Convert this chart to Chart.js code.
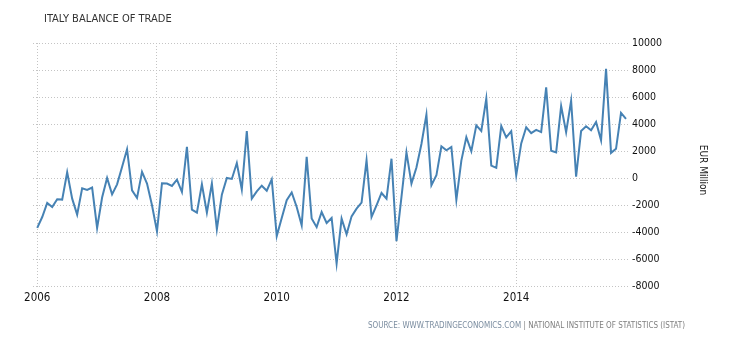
<!DOCTYPE html>
<html>
<head>
<meta charset="utf-8">
<script src="https://cdn.jsdelivr.net/npm/chart.js@4"></script>
<style>
  html, body { margin: 0; padding: 0; background: #ffffff; }
  #wrap { position: relative; width: 730px; height: 340px; }
</style>
</head>
<body>
<div id="wrap"><canvas id="chart" width="730" height="340"></canvas></div>
<script>
// Italy balance of trade, monthly, EUR million (Jan 2006 - Nov 2015)
const firstYear = 2006;
const balance2006 = [-3700, -2890, -1850, -2150, -1580, -1600, 420, -1530, -2710, -760, -890, -710];
const balance2007 = [-3700, -1450, 0, -1210, -470, 820, 2130, -910, -1480, 450, -410, -2020];
const balance2008 = [-3950, -390, -410, -590, -120, -1040, 2300, -2340, -2560, -470, -2560, -410];
const balance2009 = [-3800, -1230, 0, -70, 1110, -860, 3480, -1530, -990, -570, -940, -100];
const balance2010 = [-4300, -2960, -1650, -1070, -2150, -3500, 1560, -3000, -3640, -2520, -3330, -2960];
const balance2011 = [-6340, -3010, -4170, -2840, -2270, -1830, 1310, -2890, -2020, -1110, -1530, 1430];
const balance2012 = [-4680, -1400, 1900, -410, 780, 2520, 4700, -540, 200, 2350, 2050, 2300];
const balance2013 = [-1620, 1290, 3030, 1980, 3900, 3480, 5880, 920, 750, 3850, 3010, 3470];
const balance2014 = [200, 2560, 3760, 3320, 3570, 3400, 6720, 2020, 1900, 5330, 3400, 5730];
const balance2015 = [100, 3480, 3830, 3530, 4150, 2790, 8080, 1860, 2160, 4820, 4380];

const yearLabels = ['2006', '2008', '2010', '2012', '2014'];
const valueTicks = [10000, 8000, 6000, 4000, 2000, 0, -2000, -4000, -6000, -8000];

const series = [].concat(balance2006, balance2007, balance2008, balance2009, balance2010,
  balance2011, balance2012, balance2013, balance2014, balance2015);
// x = months since January of the first year
const points = series.map((v, i) => ({ x: i, y: v }));
const yearTickPositions = yearLabels.map(y => (Number(y) - firstYear) * 12);

const FONT = '"DejaVu Sans Condensed", "DejaVu Sans", sans-serif';
const GRID = '#c4c4c4';

const textPlugin = {
  id: 'pageText',
  afterDraw(chart) {
    const ctx = chart.ctx;
    ctx.save();
    ctx.textBaseline = 'alphabetic';
    ctx.textAlign = 'left';
    // heading
    ctx.fillStyle = '#333333';
    ctx.font = '11px ' + FONT;
    ctx.fillText('ITALY BALANCE OF TRADE', 44, 22);
    // source line
    ctx.font = '8px ' + FONT;
    const part1 = 'SOURCE: WWW.TRADINGECONOMICS.COM';
    const part2 = ' | NATIONAL INSTITUTE OF STATISTICS (ISTAT)';
    ctx.fillStyle = '#7b8da0';
    ctx.fillText(part1, 368, 328);
    const w1 = ctx.measureText(part1).width;
    ctx.fillStyle = '#808080';
    ctx.fillText(part2, 368 + w1, 328);
    // unit label
    ctx.translate(700, 170);
    ctx.rotate(Math.PI / 2);
    ctx.textAlign = 'center';
    ctx.fillStyle = '#222222';
    ctx.font = '10px ' + FONT;
    ctx.fillText('EUR Million', 0, 0);
    ctx.restore();
  }
};

new Chart(document.getElementById('chart'), {
  type: 'line',
  data: {
    datasets: [{
      data: points,
      borderColor: '#4682b4',
      borderWidth: 2,
      pointRadius: 0,
      tension: 0,
      fill: false
    }]
  },
  options: {
    responsive: false,
    animation: false,
    layout: { padding: { left: 33, top: 43, right: 0, bottom: 0 } },
    plugins: { legend: { display: false }, tooltip: { enabled: false } },
    scales: {
      x: {
        type: 'linear',
        min: -0.85,
        max: 118.4,
        afterFit(scale) { scale.height = 54; },
        afterBuildTicks(scale) { scale.ticks = yearTickPositions.map(v => ({ value: v })); },
        border: { display: false, dash: [1, 2] },
        grid: {
          color: GRID,
          lineWidth: 1,
          tickLength: 3,
          tickBorderDash: [1, 2]
        },
        ticks: {
          autoSkip: false,
          maxRotation: 0,
          padding: 2,
          color: '#111111',
          font: { family: FONT, size: 11.5 },
          callback: (v) => yearLabels[yearTickPositions.indexOf(v)]
        }
      },
      y: {
        position: 'right',
        min: -8000,
        max: 10000,
        afterFit(scale) { scale.width = 102; },
        afterBuildTicks(scale) { scale.ticks = valueTicks.map(v => ({ value: v })); },
        border: { display: false, dash: [1, 2] },
        grid: { color: GRID, lineWidth: 1, drawTicks: false },
        ticks: {
          padding: 4,
          color: '#111111',
          font: { family: FONT, size: 10.5 },
          callback: (v) => String(v)
        }
      }
    }
  },
  plugins: [textPlugin]
});
</script>
</body>
</html>
